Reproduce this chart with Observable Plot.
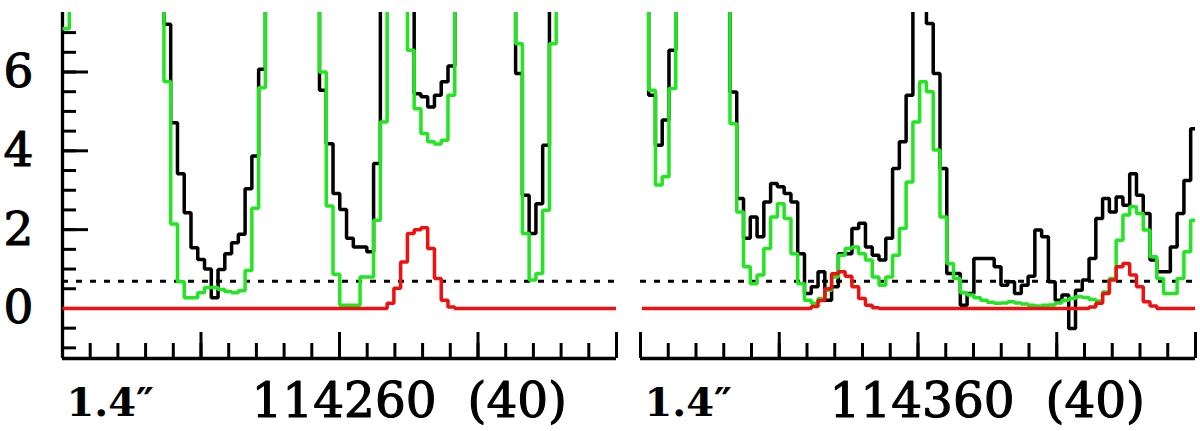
<!DOCTYPE html>
<html>
<head>
<meta charset="utf-8">
<script src="https://cdn.jsdelivr.net/npm/d3@7"></script>
<script src="https://cdn.jsdelivr.net/npm/@observablehq/plot@0.6"></script>
<style>
html, body { margin: 0; padding: 0; background: #fff; }
#chart { display: flex; width: 1200px; height: 431px; overflow: hidden; }
</style>
</head>
<body>
<div id="chart"></div>
<script>
// ---- data (T = beyond the top of the frame) ----
const T = 10;
const chanWidth = 0.4883;            // MHz per channel
const leftStart = 114240;            // first channel edge, left panel
const rightStart = 114340.1;         // first channel edge, right panel
const leftDomain = [114240, 114280];
const rightDomain = [114340, 114380];
const yDomain = [-1.27, 7.51];
const noiseLevel = 0.69;             // dotted horizontal line
const yTickLabels = [0, 2, 4, 6];
const sizeLabel = "1.4″";
const leftLabel = "114260\u00a0\u00a0(40)";
const rightLabel = "114360\u00a0\u00a0(40)";

const leftBlack = [T,T,T,T,T,T,T,T,T,T,T,T,T,T,T,
  7.21,4.71,3.42,2.43,1.54,1.24,1.00,0.27,0.99,1.39,1.67,1.88,3.04,3.87,6.07,
  T,T,T,T,T,T,T,T,
  5.54,4.18,2.92,2.51,1.78,1.56,1.56,1.44,3.68,
  T,T,T,T,T,
  5.45,5.37,5.11,5.41,5.75,6.15,
  T,T,T,T,T,T,T,T,T,
  5.96,2.87,1.90,2.66,4.14,
  T,T,T,T,T,T,T,T,T,T];
const leftGreen = [7.10,
  T,T,T,T,T,T,T,T,T,T,T,T,T,T,
  5.76,2.14,0.68,0.27,0.27,0.40,0.53,0.53,0.48,0.43,0.40,0.45,0.96,2.54,5.60,
  T,T,T,T,T,T,T,T,
  6.00,2.60,0.87,0.08,0.08,0.08,0.80,0.80,2.24,4.73,
  T,T,T,
  6.55,5.07,4.44,4.23,4.17,4.27,5.41,
  T,T,T,T,T,T,T,T,T,
  6.72,1.90,0.72,0.89,2.49,6.72,
  T,T,T,T,T,T,T,T,T];
const leftRed = [0,0,0,0,0,0,0,0,0,0,0,0,0,0,0,0,0,0,0,0,0,0,0,0,
  0,0,0,0,0,0,0,0,0,0,0,0,0,0,0,0,0,0,0,0,0,0,0,0,
  0.13,0.51,1.18,1.90,2.00,2.05,1.52,0.76,0.21,0.04,
  0,0,0,0,0,0,0,0,0,0,0,0,0,0,0,0,0,0,0,0,0,0,0,0];

const rightBlack = [T,
  5.41,4.14,4.78,6.55,
  T,T,T,T,T,T,T,T,
  5.49,2.79,1.78,2.32,1.82,2.70,3.17,3.09,2.92,2.70,1.39,0.38,0.55,0.93,0.21,0.55,
  1.39,1.39,2.03,2.16,1.56,1.35,1.23,1.78,3.55,4.23,5.41,
  T,T,
  7.23,5.96,3.55,0.89,0.89,0.08,0.38,1.27,1.27,1.27,1.06,0.59,0.68,0.38,0.59,0.82,
  1.99,1.82,0.68,0.21,0.34,-0.51,0.46,0.72,1.27,2.28,2.79,2.45,2.83,2.62,3.42,2.87,
  2.41,1.23,0.93,0.93,1.56,2.41,3.25,4.56];
const rightGreen = [T,
  5.54,3.13,3.34,5.58,
  T,T,T,T,T,T,T,T,
  4.69,2.45,1.06,0.63,0.85,1.52,2.32,2.66,2.28,1.39,0.63,0.21,0.13,0.25,0.46,0.80,
  1.35,1.52,1.56,1.39,1.23,0.80,0.59,0.80,1.35,2.03,3.21,4.73,5.75,5.50,4.02,2.32,
  1.14,0.76,0.40,0.34,0.27,0.21,0.16,0.13,0.14,0.17,0.14,0.11,0.08,0.06,0.08,0.09,
  0.14,0.21,0.25,0.30,0.28,0.23,0.19,0.42,0.76,1.73,2.37,2.58,2.41,1.99,1.31,0.76,
  0.38,0.38,0.76,1.44,2.24];
const rightRed = [0,0,0,0,0,0,0,0,0,0,0,0,0,0,0,0,0,0,0,0,0,0,0,0,0,
  0.05,0.20,0.50,0.88,0.93,0.82,0.55,0.25,0.08,0.02,
  0,0,0,0,0,0,0,0,0,0,0,0,0,0,0,0,0,0,0,0,0,0,0,0,0,0,0,0,0,0,0,
  0.04,0.13,0.38,0.72,1.06,1.14,0.85,0.55,0.17,0.06,
  0,0,0,0,0,0];

// ---- helpers ----
function steps(start, values) {
  const pts = values.map((v, i) => ({x: start + i * chanWidth, y: v}));
  pts.push({x: start + values.length * chanWidth, y: values[values.length - 1]});
  return pts;
}

const GREEN = "#22e622", RED = "#f01010", FONT = "DejaVu Serif";

function panel({domain, start, black, green, red, freqLabel, width, marginLeft, marginRight, showY}) {
  const xMajor = d3.range(domain[0], domain[1] + 0.01, 10);
  const xMinor = d3.range(domain[0], domain[1] + 0.01, 2);
  const yMinor = d3.range(-1, 7.01, 0.5);
  const lineOpts = {x: "x", y: "y", curve: "step-after", strokeWidth: 3.5, clip: true, strokeLinejoin: "miter", strokeLinecap: "butt"};
  const marks = [
    Plot.ruleY([yDomain[0]], {stroke: "#000", strokeWidth: 3.3}),
    Plot.axisX(xMinor, {anchor: "bottom", tickSize: -15, tickFormat: () => "", label: null, strokeWidth: 3}),
    Plot.axisX(xMajor, {anchor: "bottom", tickSize: -26, tickFormat: () => "", label: null, strokeWidth: 3})
  ];
  if (showY) {
    marks.push(
      Plot.ruleX([domain[0]], {stroke: "#000", strokeWidth: 3.3}),
      Plot.axisY(yMinor, {anchor: "left", tickSize: -14, tickFormat: () => "", label: null, strokeWidth: 3}),
      Plot.axisY(yTickLabels, {anchor: "left", tickSize: -26, tickFormat: () => "", label: null, strokeWidth: 3}),
      Plot.axisY(yTickLabels, {anchor: "left", tickSize: 0, tickPadding: 29, label: null,
        fontSize: 47, fontFamily: FONT, fill: "#000", textStroke: "#000", textStrokeWidth: 1.1})
    );
  }
  marks.push(
    Plot.ruleY([noiseLevel], {stroke: "#000", strokeWidth: 3, strokeDasharray: "6,8"}),
    Plot.line(steps(start, black), {...lineOpts, stroke: "#000"}),
    Plot.line(steps(start, green), {...lineOpts, stroke: GREEN}),
    Plot.line(steps(start, red), {...lineOpts, stroke: RED}),
    Plot.text([sizeLabel], {frameAnchor: "bottom-left", lineAnchor: "bottom", textAnchor: "start", dx: 4, dy: 57,
      fontSize: 40, fontWeight: "bold", fontFamily: FONT, fill: "#000"}),
    Plot.text([freqLabel], {frameAnchor: "bottom-left", lineAnchor: "bottom", textAnchor: "start", dx: 189, dy: 58,
      fontSize: 48.5, fontFamily: FONT, fill: "#000", stroke: "#000", strokeWidth: 1.1})
  );
  return Plot.plot({
    width, height: 431,
    marginLeft, marginRight, marginTop: 12, marginBottom: 73,
    style: {fontFamily: FONT, background: "#fff", overflow: "visible"},
    x: {domain, axis: null},
    y: {domain: yDomain, axis: null},
    marks
  });
}

const chart = document.getElementById("chart");
chart.append(panel({domain: leftDomain, start: leftStart, black: leftBlack, green: leftGreen, red: leftRed,
  freqLabel: leftLabel, width: 628, marginLeft: 62, marginRight: 12, showY: true}));
chart.append(panel({domain: rightDomain, start: rightStart, black: rightBlack, green: rightGreen, red: rightRed,
  freqLabel: rightLabel, width: 572, marginLeft: 12, marginRight: 5, showY: false}));
</script>
</body>
</html>
